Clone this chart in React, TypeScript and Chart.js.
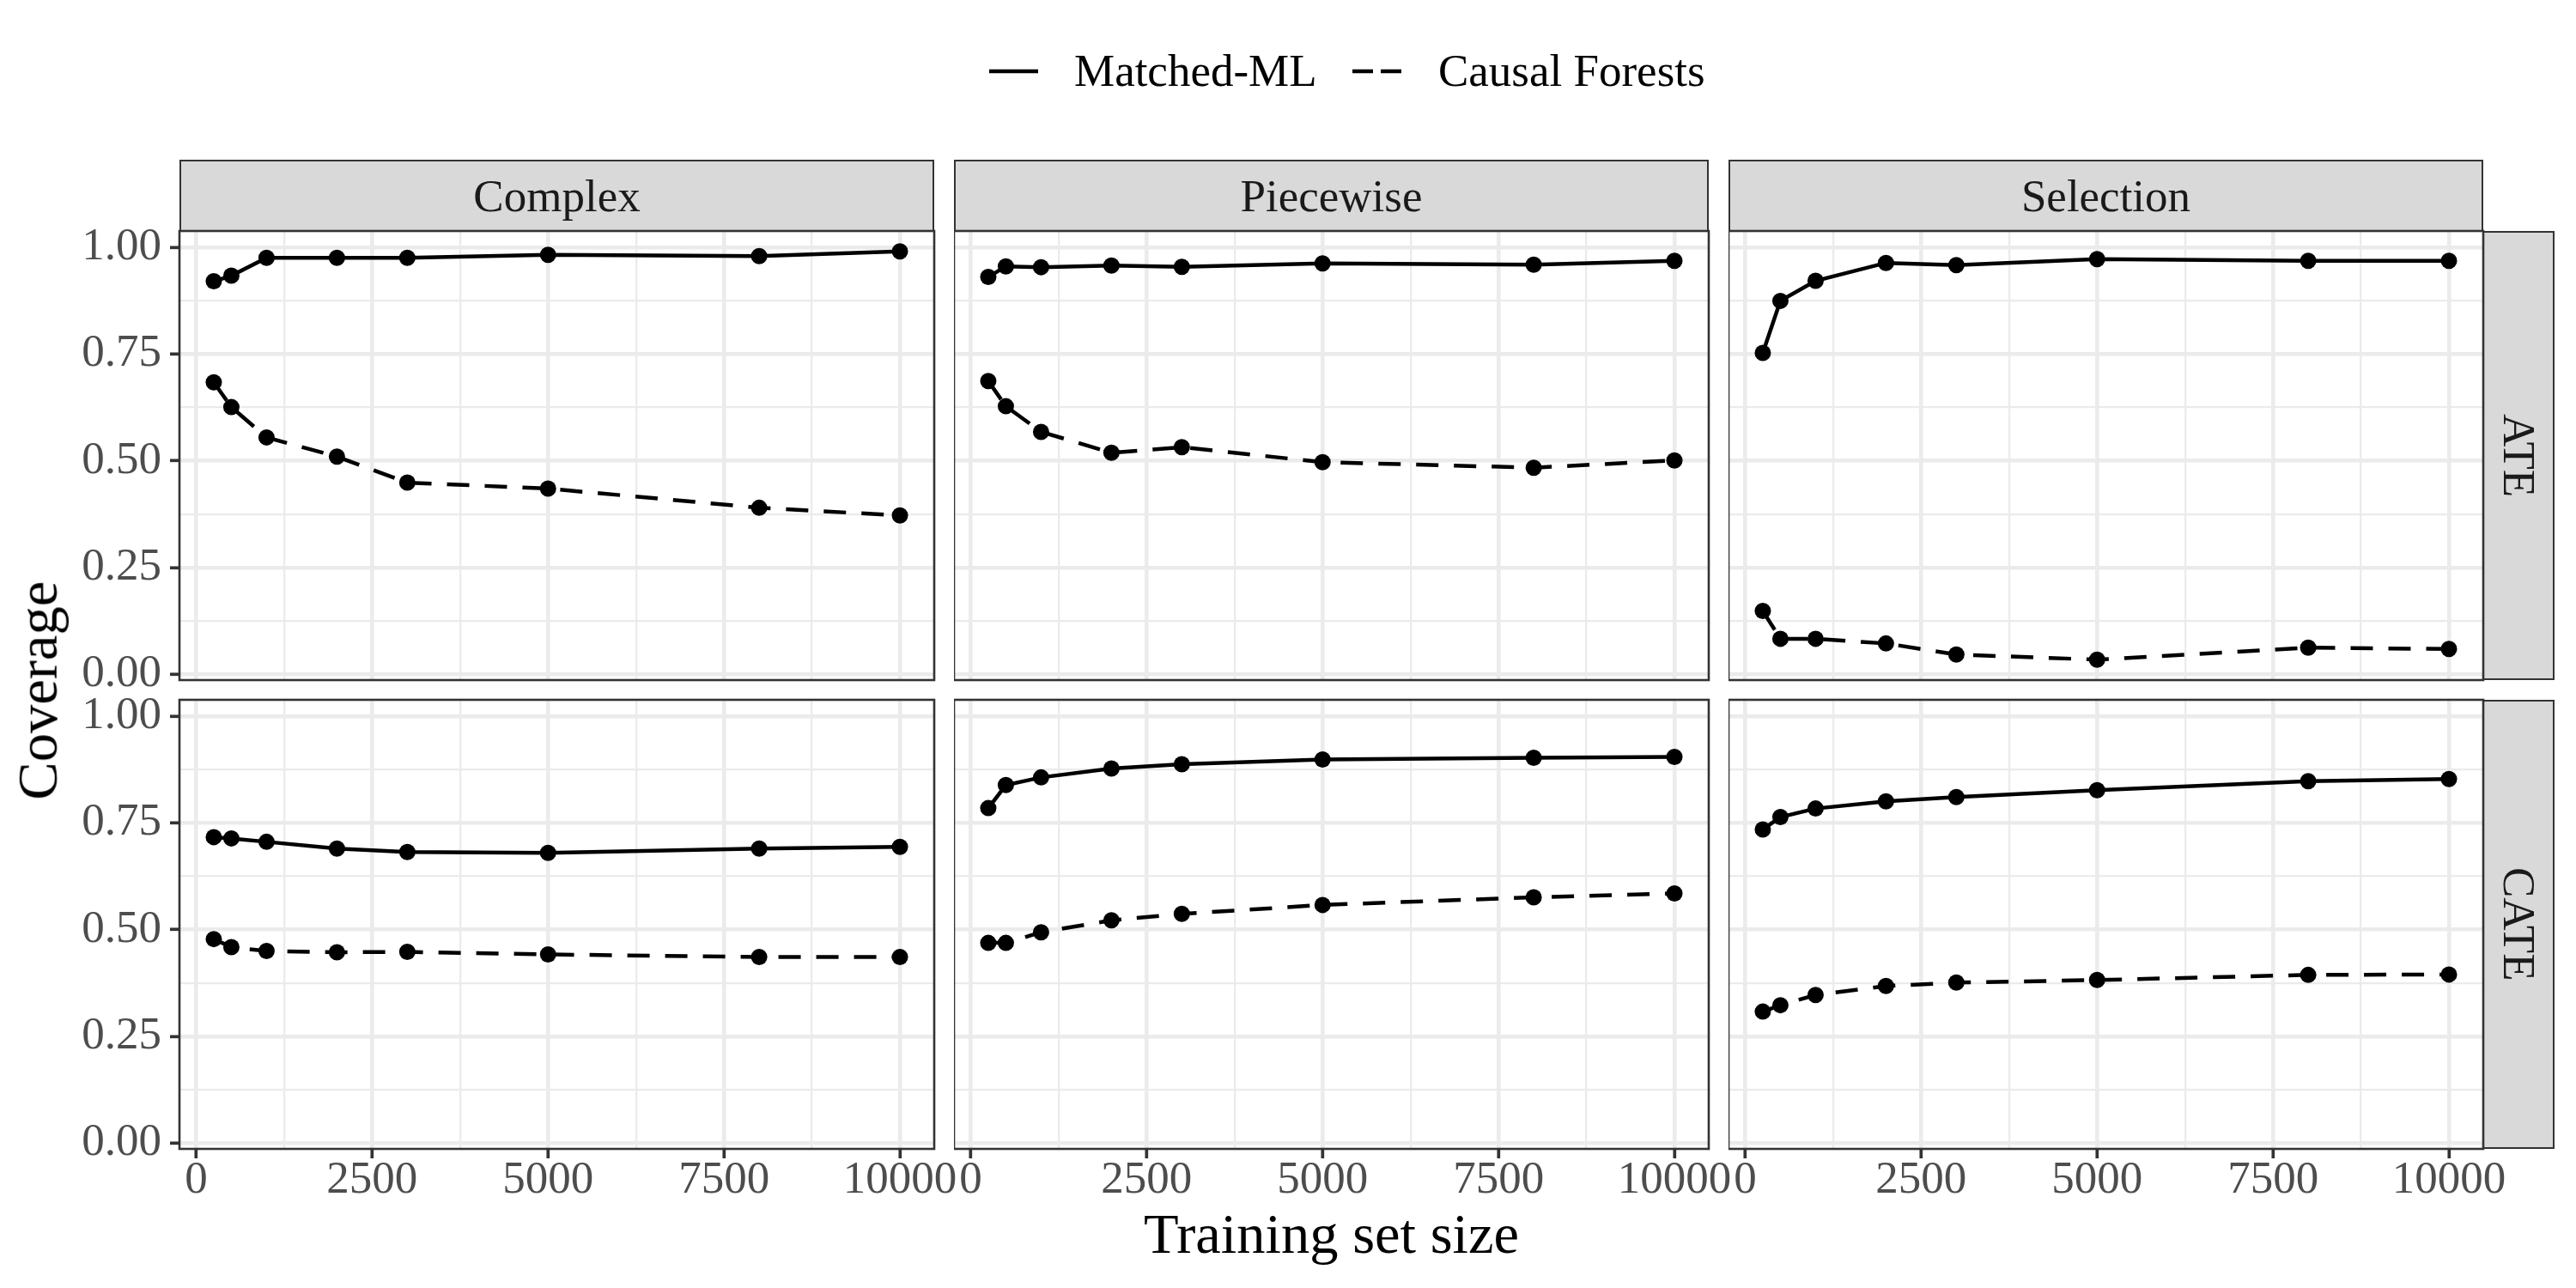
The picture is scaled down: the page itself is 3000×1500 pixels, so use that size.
import { useEffect, useRef } from "react";
import { Chart, registerables } from "chart.js";

Chart.register(...registerables);

// ---- data ----
const trainingSizes = [250, 500, 1000, 2000, 3000, 5000, 8000, 10000];
const settings = ["Complex", "Piecewise", "Selection"];
const estimands = ["ATE", "CATE"];
const methods = ["Matched-ML", "Causal Forests"];
const xTicks = [0, 2500, 5000, 7500, 10000];
const yTicks = [0, 0.25, 0.5, 0.75, 1];

const ateComplexMatched = [0.921, 0.934, 0.976, 0.976, 0.976, 0.983, 0.98, 0.991];
const ateComplexForest = [0.684, 0.626, 0.555, 0.51, 0.449, 0.435, 0.39, 0.372];
const atePiecewiseMatched = [0.931, 0.956, 0.954, 0.958, 0.955, 0.963, 0.96, 0.969];
const atePiecewiseForest = [0.687, 0.628, 0.568, 0.519, 0.532, 0.497, 0.484, 0.501];
const ateSelectionMatched = [0.753, 0.875, 0.922, 0.964, 0.959, 0.973, 0.969, 0.969];
const ateSelectionForest = [0.148, 0.083, 0.083, 0.072, 0.046, 0.034, 0.062, 0.059];

const cateComplexMatched = [0.717, 0.714, 0.706, 0.69, 0.682, 0.68, 0.69, 0.694];
const cateComplexForest = [0.478, 0.459, 0.45, 0.447, 0.448, 0.442, 0.436, 0.436];
const catePiecewiseMatched = [0.785, 0.839, 0.857, 0.878, 0.888, 0.899, 0.903, 0.905];
const catePiecewiseForest = [0.469, 0.469, 0.494, 0.522, 0.537, 0.558, 0.576, 0.585];
const cateSelectionMatched = [0.735, 0.764, 0.784, 0.801, 0.811, 0.827, 0.848, 0.853];
const cateSelectionForest = [0.308, 0.323, 0.347, 0.368, 0.376, 0.382, 0.394, 0.395];

const coverage: number[][][][] = [
  [
    [ateComplexMatched, ateComplexForest],
    [atePiecewiseMatched, atePiecewiseForest],
    [ateSelectionMatched, ateSelectionForest],
  ],
  [
    [cateComplexMatched, cateComplexForest],
    [catePiecewiseMatched, catePiecewiseForest],
    [cateSelectionMatched, cateSelectionForest],
  ],
];

// ggplot-style 5% expansion of the shared scales
const allY = coverage.flat(3);
const yLo = Math.min(...allY);
const yHi = Math.max(...allY);
const Y_MIN = yLo - 0.05 * (yHi - yLo);
const Y_MAX = yHi + 0.05 * (yHi - yLo);
const xLo = Math.min(...trainingSizes);
const xHi = Math.max(...trainingSizes);
const X_MIN = xLo - 0.05 * (xHi - xLo);
const X_MAX = xHi + 0.05 * (xHi - xLo);

// major breaks plus the minor ones halfway between them
const withMinor = (major: number[]) => {
  const out: number[] = [];
  major.forEach((v, i) => {
    out.push(v);
    if (i < major.length - 1) out.push((v + major[i + 1]) / 2);
  });
  return out;
};

// ---- layout ----
const FONT = "'Liberation Serif', 'DejaVu Serif', serif";
const PANEL_LEFT = [209, 1111, 2013];
const PANEL_TOP = [269, 815];
const PANEL_W = 879;
const PANEL_H = 523;
const STRIP = 84;
const LEFT_AXIS = 209;
const BOTTOM_AXIS = 150;
const PAD_TOP = 50;
const PAD_RIGHT = 80;
const PAD_BOTTOM = 50;

const GRID = "#EBEBEB";
const DARK = "#333333";

const near = (v: number, list: number[]) => list.some((t) => Math.abs(t - v) < 1e-6);

const panelFrame = {
  id: "panelFrame",
  afterDraw(chart: Chart) {
    const { ctx, chartArea: a } = chart;
    ctx.save();
    ctx.strokeStyle = DARK;
    ctx.lineWidth = 2.6;
    ctx.strokeRect(a.left, a.top, a.right - a.left, a.bottom - a.top);
    ctx.restore();
  },
};

function FacetPanel({ row, col }: { row: number; col: number }) {
  const canvasRef = useRef<HTMLCanvasElement>(null);
  const showY = col === 0;
  const showX = row === estimands.length - 1;
  const yAxisW = showY ? LEFT_AXIS : 0;
  const xAxisH = showX ? BOTTOM_AXIS : 0;
  const left = PANEL_LEFT[col] - yAxisW;
  const top = PANEL_TOP[row] - PAD_TOP;
  const width = yAxisW + PANEL_W + PAD_RIGHT;
  const height = PAD_TOP + PANEL_H + (showX ? xAxisH : PAD_BOTTOM);

  useEffect(() => {
    if (!canvasRef.current) return;
    const ctx = canvasRef.current.getContext("2d");
    if (!ctx) return;
    const [matched, forest] = coverage[row][col];

    const chart = new Chart(ctx, {
      type: "line",
      data: {
        datasets: [
          {
            label: methods[0],
            data: trainingSizes.map((x, i) => ({ x, y: matched[i] })),
            borderColor: "#000000",
            backgroundColor: "#000000",
            borderWidth: 4.5,
            pointRadius: 9.5,
            pointBorderWidth: 0,
            tension: 0,
          },
          {
            label: methods[1],
            data: trainingSizes.map((x, i) => ({ x, y: forest[i] })),
            borderColor: "#000000",
            backgroundColor: "#000000",
            borderWidth: 4.5,
            borderDash: [26, 18],
            pointRadius: 9.5,
            pointBorderWidth: 0,
            tension: 0,
          },
        ],
      },
      options: {
        animation: false,
        responsive: false,
        devicePixelRatio: 1,
        events: [],
        layout: {
          autoPadding: false,
          padding: { top: PAD_TOP, right: PAD_RIGHT, bottom: showX ? 0 : PAD_BOTTOM, left: 0 },
        },
        plugins: { legend: { display: false }, tooltip: { enabled: false } },
        scales: {
          x: {
            type: "linear",
            min: X_MIN,
            max: X_MAX,
            afterBuildTicks: (s: any) => {
              s.ticks = withMinor(xTicks).map((value) => ({ value }));
            },
            afterFit: (s: any) => {
              s.height = xAxisH;
            },
            border: { display: false },
            grid: {
              color: GRID,
              lineWidth: (c: any) => (near(c.tick?.value, xTicks) ? 4.6 : 2.3),
              drawTicks: showX,
              tickLength: 11,
              tickWidth: 3.7,
              tickColor: (c: any) => (near(c.tick?.value, xTicks) ? DARK : "rgba(0,0,0,0)"),
            },
            ticks: {
              display: showX,
              autoSkip: false,
              maxRotation: 0,
              padding: 0,
              color: "#4D4D4D",
              font: { family: FONT, size: 53, lineHeight: 1 },
              callback: (v: any) => (near(Number(v), xTicks) ? String(v) : ""),
            },
          },
          y: {
            type: "linear",
            min: Y_MIN,
            max: Y_MAX,
            afterBuildTicks: (s: any) => {
              s.ticks = withMinor(yTicks).map((value) => ({ value }));
            },
            afterFit: (s: any) => {
              s.width = yAxisW;
            },
            border: { display: false },
            grid: {
              color: GRID,
              lineWidth: (c: any) => (near(c.tick?.value, yTicks) ? 4.6 : 2.3),
              drawTicks: showY,
              tickLength: 11,
              tickWidth: 3.7,
              tickColor: (c: any) => (near(c.tick?.value, yTicks) ? DARK : "rgba(0,0,0,0)"),
            },
            ticks: {
              display: showY,
              autoSkip: false,
              padding: 10,
              color: "#4D4D4D",
              font: { family: FONT, size: 53, lineHeight: 1 },
              callback: (v: any) => (near(Number(v), yTicks) ? Number(v).toFixed(2) : ""),
            },
          },
        },
      },
      plugins: [panelFrame],
    });

    return () => {
      chart.destroy();
    };
  }, [row, col, xAxisH, yAxisW]);

  return (
    <canvas
      ref={canvasRef}
      width={width}
      height={height}
      style={{ position: "absolute", left, top, width, height }}
    />
  );
}

const stripBase = {
  position: "absolute" as const,
  boxSizing: "border-box" as const,
  background: "#D9D9D9",
  border: `2.6px solid ${DARK}`,
  color: "#1A1A1A",
  fontSize: 53,
  lineHeight: "53px",
  display: "flex",
  alignItems: "center",
  justifyContent: "center",
};

export default function App() {
  const rightEdge = PANEL_LEFT[2] + PANEL_W;
  return (
    <div
      style={{
        position: "absolute",
        left: 0,
        top: 0,
        width: 3000,
        height: 1500,
        background: "#FFFFFF",
        fontFamily: FONT,
        overflow: "hidden",
      }}
    >
      {/* legend */}
      <svg style={{ position: "absolute", left: 0, top: 0 }} width={3000} height={140}>
        <line x1={1152} y1={83} x2={1209} y2={83} stroke="#000" strokeWidth={4.6} />
        <line x1={1575} y1={83} x2={1632} y2={83} stroke="#000" strokeWidth={4.6} strokeDasharray="24 9" />
      </svg>
      <div style={{ position: "absolute", left: 1251, top: 56, fontSize: 53, lineHeight: "53px", whiteSpace: "nowrap" }}>
        {methods[0]}
      </div>
      <div style={{ position: "absolute", left: 1675, top: 56, fontSize: 53, lineHeight: "53px", whiteSpace: "nowrap" }}>
        {methods[1]}
      </div>

      {/* top strips */}
      {settings.map((s, c) => (
        <div key={s} style={{ ...stripBase, left: PANEL_LEFT[c], top: PANEL_TOP[0] - STRIP + 1, width: PANEL_W, height: STRIP }}>
          {s}
        </div>
      ))}

      {/* right strips */}
      {estimands.map((e, r) => (
        <div key={e} style={{ ...stripBase, left: rightEdge - 1, top: PANEL_TOP[r], width: STRIP, height: PANEL_H }}>
          <span style={{ writingMode: "vertical-rl" }}>{e}</span>
        </div>
      ))}

      {estimands.map((_, r) => settings.map((_, c) => <FacetPanel key={`${r}-${c}`} row={r} col={c} />))}

      {/* axis titles */}
      <div
        style={{
          position: "absolute",
          left: PANEL_LEFT[0],
          width: rightEdge - PANEL_LEFT[0],
          top: 1404,
          fontSize: 66.5,
          lineHeight: "66.5px",
          textAlign: "center",
          whiteSpace: "nowrap",
        }}
      >
        Training set size
      </div>
      <div
        style={{
          position: "absolute",
          left: 44 - 300,
          top: (PANEL_TOP[0] + PANEL_TOP[1] + PANEL_H) / 2 - 33,
          width: 600,
          fontSize: 66.5,
          lineHeight: "66.5px",
          textAlign: "center",
          whiteSpace: "nowrap",
          transform: "rotate(-90deg)",
        }}
      >
        Coverage
      </div>
    </div>
  );
}
